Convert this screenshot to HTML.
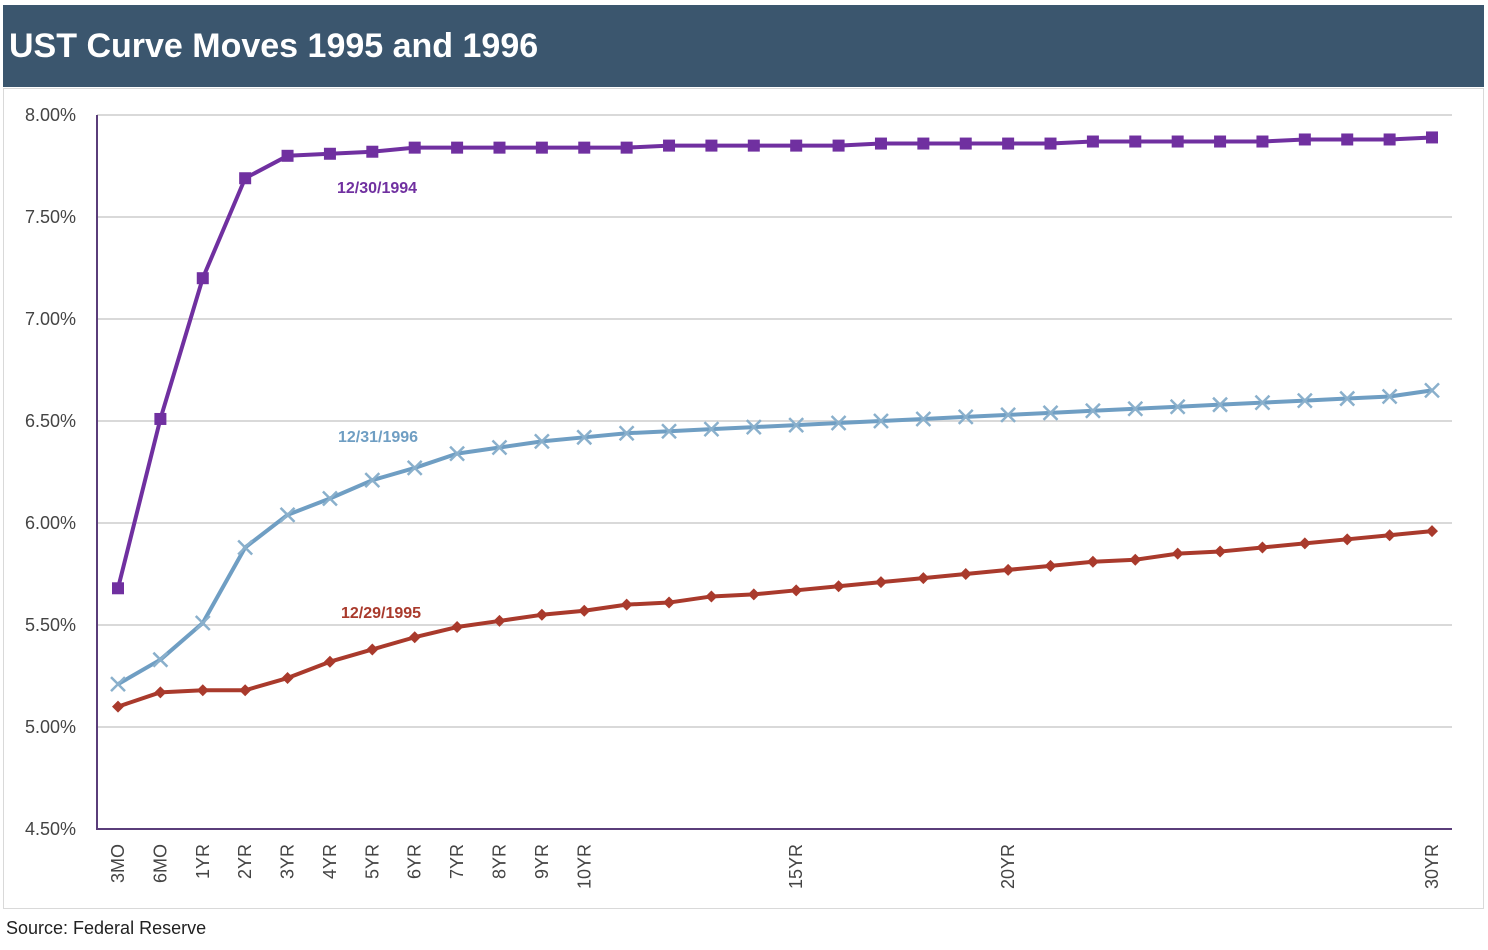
<!DOCTYPE html>
<html><head><meta charset="utf-8"><style>
body{margin:0;background:#fff;width:1488px;height:950px;overflow:hidden;font-family:"Liberation Sans",sans-serif}
#hdr{position:absolute;left:3px;top:5px;width:1481px;height:82px;background:#3b566e}
#hdr span{position:absolute;left:6px;top:22px;color:#fff;font-weight:bold;font-size:34px}
#frame{position:absolute;left:3px;top:88px;width:1479px;height:819px;border:1px solid #d9d9d9}
#src{position:absolute;left:6px;top:918px;font-size:18px;color:#222}
svg{position:absolute;left:0;top:0}
</style></head><body>
<div id="hdr"><span>UST Curve Moves 1995 and 1996</span></div>
<div id="frame"></div>
<div id="src">Source: Federal Reserve</div>
<svg id="chart" width="1488" height="950"></svg>
<script>
const categories=["3MO","6MO","1YR","2YR","3YR","4YR","5YR","6YR","7YR","8YR","9YR","10YR","11","12","13","14","15YR","16","17","18","19","20YR","21","22","23","24","25","26","27","28","29","30YR"];
const shownLabels=["3MO","6MO","1YR","2YR","3YR","4YR","5YR","6YR","7YR","8YR","9YR","10YR","15YR","20YR","30YR"];
const yTicks=[4.5,5.0,5.5,6.0,6.5,7.0,7.5,8.0];
const s1994=[5.68,6.51,7.20,7.69,7.80,7.81,7.82,7.84,7.84,7.84,7.84,7.84,7.84,7.85,7.85,7.85,7.85,7.85,7.86,7.86,7.86,7.86,7.86,7.87,7.87,7.87,7.87,7.87,7.88,7.88,7.88,7.89];
const s1996=[5.21,5.33,5.51,5.88,6.04,6.12,6.21,6.27,6.34,6.37,6.40,6.42,6.44,6.45,6.46,6.47,6.48,6.49,6.50,6.51,6.52,6.53,6.54,6.55,6.56,6.57,6.58,6.59,6.60,6.61,6.62,6.65];
const s1995=[5.10,5.17,5.18,5.18,5.24,5.32,5.38,5.44,5.49,5.52,5.55,5.57,5.60,5.61,5.64,5.65,5.67,5.69,5.71,5.73,5.75,5.77,5.79,5.81,5.82,5.85,5.86,5.88,5.90,5.92,5.94,5.96];
const NS="http://www.w3.org/2000/svg",svg=document.getElementById('chart');
const X0=97,X1=1452,Y0=829,Y1=115;
const x=i=>118+i*(1432-118)/(categories.length-1);
const y=v=>Y0-(v-4.5)/(8-4.5)*(Y0-Y1);
function mk(t,a,p){const e=document.createElementNS(NS,t);for(const k in a)e.setAttribute(k,a[k]);(p||svg).appendChild(e);return e;}
yTicks.forEach(v=>{
 if(v>4.5){const g=mk('line',{x1:X0,x2:X1,y1:y(v),y2:y(v),stroke:'#d9d9d9','stroke-width':2});
 
 }
 const t=mk('text',{x:76,y:y(v)+6,'text-anchor':'end','font-size':18,fill:'#444'});t.textContent=v.toFixed(2)+'%';
 
 
});
const ax=mk('path',{d:`M${X0} ${Y1}V${Y0}H${X1}`,stroke:'#5a3d7a','stroke-width':2,fill:'none'});


categories.forEach((c,i)=>{
 if(!shownLabels.includes(c))return;
 const t=mk('text',{x:0,y:0,'text-anchor':'end','font-size':18,fill:'#444',transform:`translate(${x(i)+6},${Y0+15}) rotate(-90)`});t.textContent=c;
 
 
});
function series(data,color,marker,name){
 const l=mk('polyline',{points:data.map((v,i)=>x(i)+','+y(v)).join(' '),fill:'none',stroke:color,'stroke-width':4,'stroke-linejoin':'round'});
 
 
 data.forEach((v,i)=>{
  const cx=x(i),cy=y(v);let m;
  if(marker==='sq')m=mk('rect',{x:cx-6,y:cy-6,width:12,height:12,fill:color});
  else if(marker==='x')m=mk('path',{d:`M${cx-7} ${cy-7}L${cx+7} ${cy+7}M${cx-7} ${cy+7}L${cx+7} ${cy-7}`,stroke:'#8ab0cc','stroke-width':2.5});
  else m=mk('path',{d:`M${cx} ${cy-6}L${cx+6} ${cy}L${cx} ${cy+6}L${cx-6} ${cy}Z`,fill:color});
  
  
 });
}
series(s1995,'#a93a2c','dia','series-1995');
series(s1996,'#6f9ec3','x','series-1996');
series(s1994,'#7030a0','sq','series-1994');
[['12/30/1994',337,193,'#7030a0'],['12/31/1996',338,442,'#6f9ec3'],['12/29/1995',341,618,'#a93a2c']].forEach(d=>{
 const t=mk('text',{x:d[1],y:d[2],'font-size':16,'font-weight':'bold',fill:d[3]});t.textContent=d[0];
 
 
});
</script>
</body></html>
